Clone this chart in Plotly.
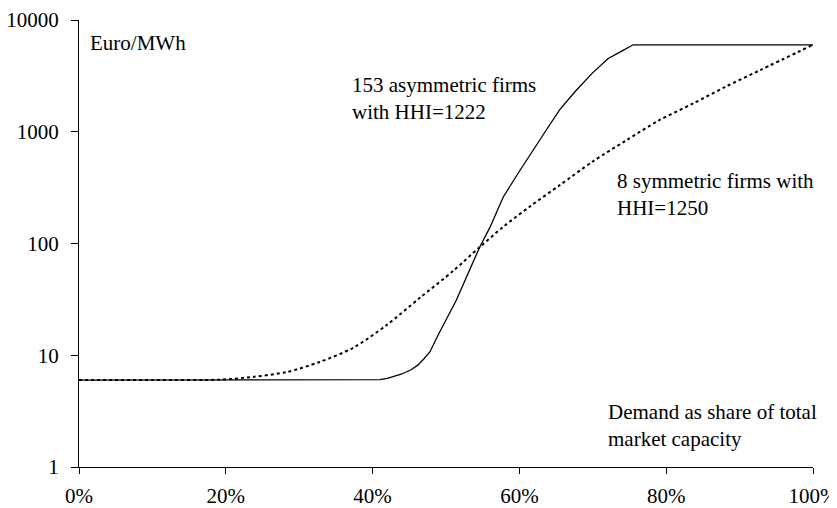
import plotly.graph_objects as go

# Demand as share of total market capacity (fraction) and price (Euro/MWh)
asym_x = [0.0, 0.20, 0.40, 0.41, 0.42, 0.428, 0.44, 0.453, 0.462, 0.47, 0.478, 0.49, 0.505, 0.514, 0.526,
          0.546, 0.56, 0.578, 0.60, 0.624, 0.64, 0.655, 0.676, 0.699, 0.721, 0.74, 0.755, 1.0]
asym_y = [6, 6, 6, 6.05, 6.2, 6.4, 6.8, 7.45, 8.2, 9.3, 10.7, 15.5, 23.8, 31, 47,
          93, 140, 261, 443, 785, 1120, 1580, 2290, 3330, 4530, 5300, 6000, 6000]

sym_x = [0.0, 0.10, 0.192, 0.237, 0.283, 0.328, 0.374, 0.419, 0.464, 0.51, 0.546,
         0.578, 0.615, 0.655, 0.70, 0.746, 0.79, 0.837, 0.88, 0.928, 1.0]
sym_y = [6, 6, 6.05, 6.4, 7.08, 8.71, 11.7, 18.6, 32.5, 57, 93,
         141, 216, 333, 542, 841, 1262, 1795, 2510, 3560, 6000]

x_tickvals = [0, 0.2, 0.4, 0.6, 0.8, 1.0]
y_tickvals = [1, 10, 100, 1000, 10000]
y_ticktext = ["1", "10", "100", "1000", "10000"]

FONT = "Liberation Serif"

fig = go.Figure()
fig.add_trace(go.Scatter(x=asym_x, y=asym_y, mode="lines",
                         line=dict(color="black", width=1.3),
                         showlegend=False, hoverinfo="skip"))
fig.add_trace(go.Scatter(x=sym_x, y=sym_y, mode="lines", line_shape="spline",
                         line=dict(color="black", width=2, dash="dot", smoothing=0.8),
                         showlegend=False, hoverinfo="skip"))

fig.update_layout(
    width=829, height=500,
    margin=dict(l=71, r=24, t=12, b=41),
    paper_bgcolor="white", plot_bgcolor="white",
    font=dict(family=FONT, size=21, color="black"),
    xaxis=dict(range=[0, 1], tickvals=x_tickvals, tickformat=".0%", automargin=False,
               showgrid=False, zeroline=False, showline=True, linecolor="black", linewidth=1,
               ticks="outside", ticklen=6, tickcolor="black", ticklabelstandoff=4,
               ticklabeloverflow="allow",
               tickfont=dict(family=FONT, size=21, color="black")),
    yaxis=dict(type="log", range=[0, 4], tickvals=y_tickvals, ticktext=y_ticktext, automargin=False,
               showgrid=False, zeroline=False, showline=True, linecolor="black", linewidth=1,
               ticks="outside", ticklen=7, tickcolor="black", ticklabelstandoff=8,
               ticklabeloverflow="allow",
               tickfont=dict(family=FONT, size=21, color="black")),
)

ann = dict(xref="paper", yref="paper", showarrow=False, xanchor="left", yanchor="middle",
           align="left", font=dict(family=FONT, size=21, color="black"))
fig.add_annotation(x=0.012, y=0.9485, text="Euro/MWh", **ann)
fig.add_annotation(x=0.369, y=0.824, text="153 asymmetric firms<br>with HHI=1222", **ann)
fig.add_annotation(x=0.730, y=0.609, text="8 symmetric firms with<br>HHI=1250", **ann)
fig.add_annotation(x=0.718, y=0.0934, text="Demand as share of total<br>market capacity", **ann)

fig.write_html("out.html")
